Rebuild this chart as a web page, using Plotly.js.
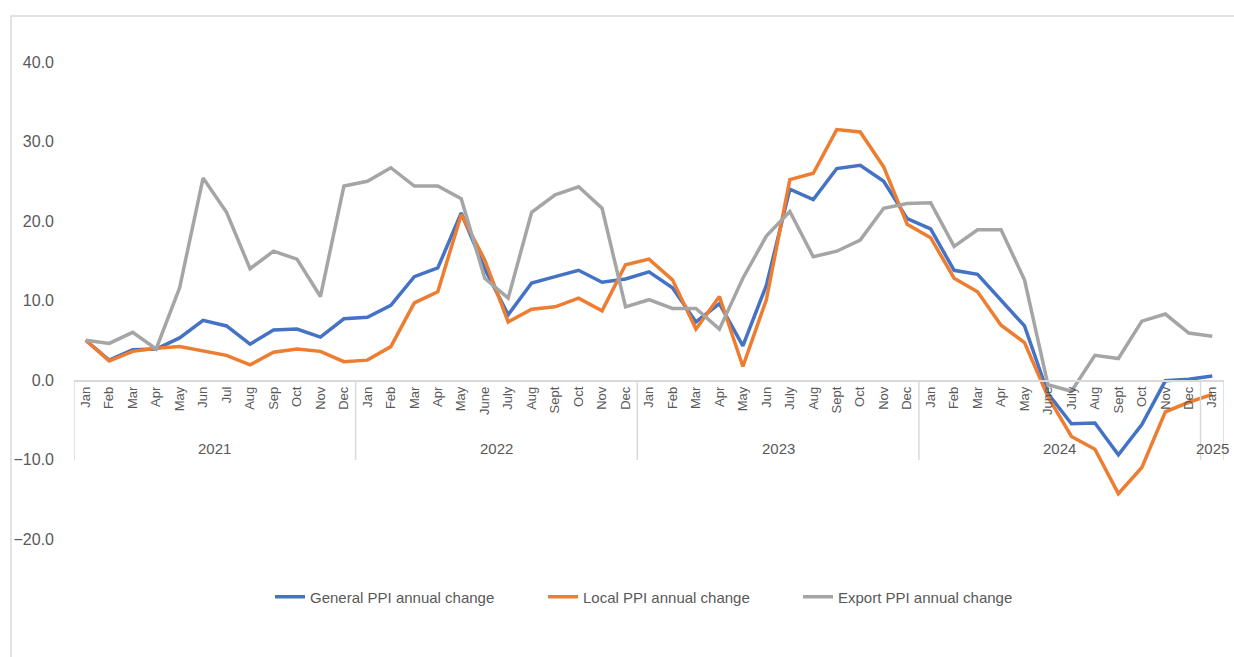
<!DOCTYPE html>
<html>
<head>
<meta charset="utf-8">
<script src="https://cdn.plot.ly/plotly-3.0.1.min.js"></script>
<style>html,body{margin:0;padding:0;background:#fff;}#chart{width:1234px;height:657px;}</style>
</head>
<body>
<div id="chart"></div>
<script>
var years = [
  "2021","2021","2021","2021","2021","2021","2021","2021","2021","2021","2021","2021",
  "2022","2022","2022","2022","2022","2022","2022","2022","2022","2022","2022","2022",
  "2023","2023","2023","2023","2023","2023","2023","2023","2023","2023","2023","2023",
  "2024","2024","2024","2024","2024","2024","2024","2024","2024","2024","2024","2024",
  "2025"
];
var months = [
  "Jan","Feb","Mar","Apr","May","Jun","Jul","Aug","Sep","Oct","Nov","Dec",
  "Jan","Feb","Mar","Apr","May","June","July","Aug","Sept","Oct","Nov","Dec",
  "Jan","Feb","Mar","Apr","May","Jun","July","Aug","Sept","Oct","Nov","Dec",
  "Jan","Feb","Mar","Apr","May","June","July","Aug","Sept","Oct","Nov","Dec",
  "Jan"
];
var generalPPI = [
  5.0, 2.5, 3.8, 3.9, 5.3, 7.5, 6.8, 4.5, 6.3, 6.4, 5.4, 7.7,
  7.9, 9.4, 13.0, 14.1, 21.0, 14.0, 8.2, 12.2, 13.0, 13.8, 12.3, 12.7,
  13.6, 11.6, 7.3, 9.6, 4.3, 11.9, 24.0, 22.7, 26.6, 27.0, 25.0, 20.3,
  19.0, 13.8, 13.3, 10.1, 6.8, -1.7, -5.5, -5.4, -9.4, -5.6, -0.1, 0.1,
  0.5
];
var localPPI = [
  5.0, 2.4, 3.6, 4.0, 4.2, 3.6, 3.1, 1.9, 3.5, 3.9, 3.6, 2.3,
  2.5, 4.2, 9.7, 11.1, 20.8, 15.1, 7.3, 8.9, 9.2, 10.3, 8.7, 14.5,
  15.2, 12.6, 6.4, 10.5, 1.7, 10.1, 25.2, 26.0, 31.5, 31.2, 26.8, 19.6,
  17.9, 12.8, 11.1, 6.9, 4.7, -2.1, -7.1, -8.7, -14.3, -11.0, -4.0, -2.8,
  -1.8
];
var exportPPI = [
  5.0, 4.6, 6.0, 3.9, 11.6, 25.4, 21.1, 14.0, 16.2, 15.2, 10.5, 24.4,
  25.0, 26.7, 24.4, 24.4, 22.8, 12.8, 10.3, 21.1, 23.3, 24.3, 21.6, 9.2,
  10.1, 9.0, 9.0, 6.4, 12.8, 18.1, 21.2, 15.5, 16.2, 17.6, 21.6, 22.2,
  22.3, 16.8, 18.9, 18.9, 12.6, -0.6, -1.4, 3.1, 2.7, 7.4, 8.3, 5.9,
  5.5
];
var seriesNames = ["General PPI annual change", "Local PPI annual change", "Export PPI annual change"];
var seriesColors = ["#4472C4", "#ED7D31", "#A5A5A5"];

// position index of each month on the category axis
var idx = months.map(function (_, i) { return i; });

var seriesData = [generalPPI, localPPI, exportPPI];
var legendIds = ["legend", "legend2", "legend3"];
var traces = seriesData.map(function (vals, i) {
  return {
    type: "scatter",
    mode: "lines",
    x: idx,
    y: vals,
    name: seriesNames[i],
    legend: legendIds[i],
    line: {color: seriesColors[i], width: 3.5},
    hoverinfo: "y"
  };
});

// year groups: center position and boundaries
var groups = [];
years.forEach(function (y, i) {
  var g = groups[groups.length - 1];
  if (!g || g.year !== y) { groups.push({year: y, start: i, end: i}); }
  else { g.end = i; }
});

var axisY = 1 / 3;          // zero line in paper fraction (range -20..40)
var divBottom = 0.1656;
var yearY = 0.1887;
var grey = "#d9d9d9";
var txt = "#595959";
var fam = "Liberation Sans, Arial, sans-serif";

var shapes = [{
  type: "rect", xref: "paper", yref: "paper",
  x0: -0.0548, x1: 1.2, y0: -0.5, y1: 1.0964,
  line: {color: grey, width: 1.5}, fillcolor: "rgba(0,0,0,0)", layer: "below"
}];
var annotations = [];
groups.forEach(function (g, k) {
  shapes.push({
    type: "line", xref: "x", yref: "paper",
    x0: g.start - 0.5, x1: g.start - 0.5, y0: axisY, y1: divBottom,
    line: {color: grey, width: 1.5}
  });
  if (k === groups.length - 1) {
    shapes.push({
      type: "line", xref: "x", yref: "paper",
      x0: g.end + 0.5, x1: g.end + 0.5, y0: axisY, y1: divBottom,
      line: {color: grey, width: 1.5}
    });
  }
  annotations.push({
    xref: "x", yref: "paper",
    x: (g.start + g.end) / 2, y: yearY,
    text: g.year, showarrow: false,
    xanchor: "center", yanchor: "middle",
    font: {family: fam, color: txt, size: 15}
  });
});

function legendAt(px) {
  return {
    orientation: "h",
    x: (px - 74) / 1150, xanchor: "left",
    y: -0.1216, yanchor: "middle",
    font: {family: fam, color: txt, size: 15},
    bgcolor: "rgba(0,0,0,0)"
  };
}

var layout = {
  width: 1234,
  height: 657,
  margin: {l: 74, r: 10, t: 62, b: 118},
  paper_bgcolor: "#ffffff",
  plot_bgcolor: "#ffffff",
  font: {family: fam, color: txt, size: 14},
  showlegend: true,
  xaxis: {
    type: "linear",
    anchor: "free",
    position: axisY,
    range: [-0.5, 48.5],
    tickmode: "array",
    tickvals: idx,
    ticktext: months,
    tickangle: -90,
    showline: true,
    linecolor: grey,
    linewidth: 1.5,
    showgrid: false,
    zeroline: false,
    ticks: "",
    tickfont: {family: fam, color: txt, size: 13}
  },
  yaxis: {
    range: [-20, 40],
    dtick: 10,
    tick0: 0,
    tickformat: ".1f",
    showgrid: false,
    zeroline: false,
    showline: false,
    ticks: "",
    ticklabelstandoff: 19,
    tickfont: {family: fam, color: txt, size: 16}
  },
  legend: legendAt(270),
  legend2: legendAt(543),
  legend3: legendAt(798),
  shapes: shapes,
  annotations: annotations
};

Plotly.newPlot("chart", traces, layout, {displayModeBar: false, staticPlot: true});
</script>
</body>
</html>
